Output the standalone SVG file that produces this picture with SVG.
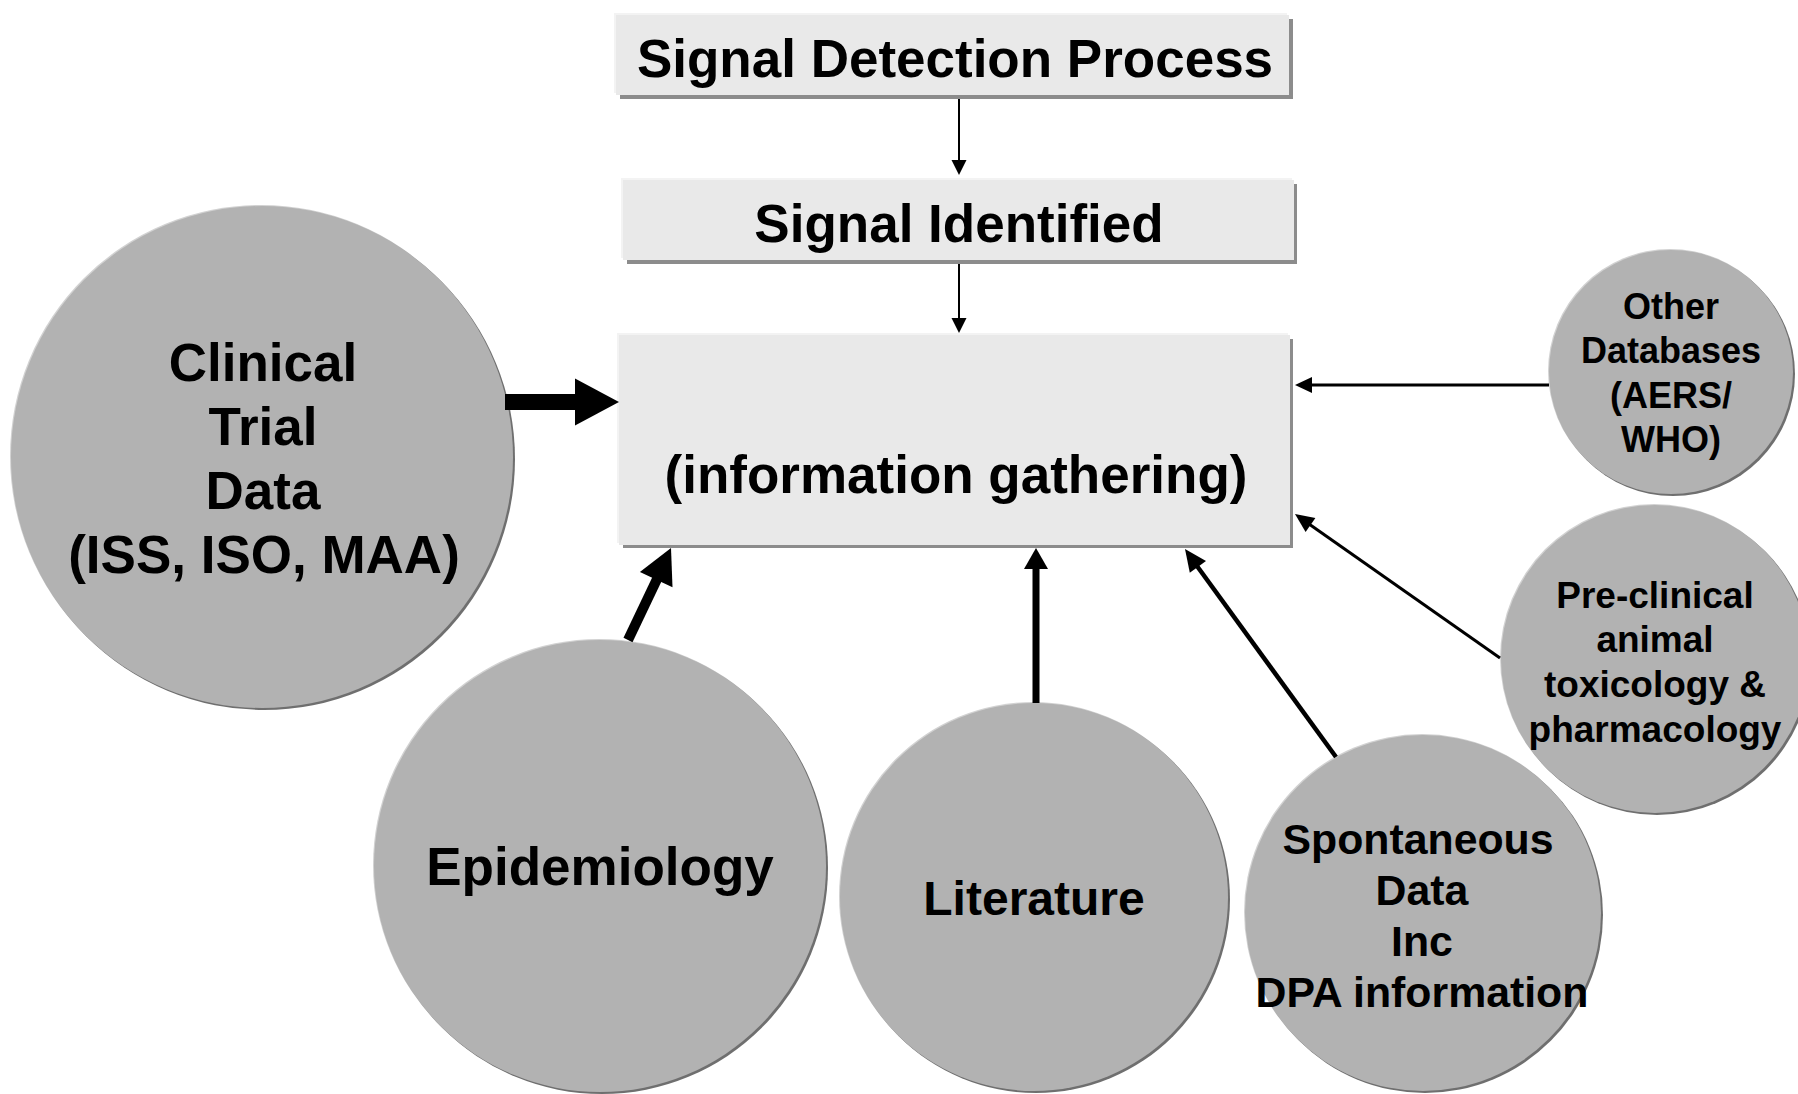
<svg xmlns="http://www.w3.org/2000/svg" width="1798" height="1094" viewBox="0 0 1798 1094">
<style>
.t{font-family:"Liberation Sans",Arial,sans-serif;font-weight:bold;fill:#000;text-anchor:middle}
.bx{fill:#e9e9e9}
.bxs{fill:#8c8c8c}
.bxh{fill:#f3f3f3}
.c{fill:#b2b2b2}
.cs{fill:#6f6f6f}
.ch{fill:#d2d2d2}
.ln{stroke:#000;fill:none}
.hd{fill:#000}
</style>
<rect width="1798" height="1094" fill="#fff"/>
<g id="node-detection">
<rect class="bxh" x="614" y="13" width="673" height="80"/>
<rect class="bxs" x="620" y="19" width="673" height="80"/>
<rect class="bx" x="616" y="15" width="673" height="80"/>
<text class="t" x="955" y="77" font-size="53">Signal Detection Process</text>
</g>
<g id="node-identified">
<rect class="bxh" x="621" y="178" width="671" height="80"/>
<rect class="bxs" x="627" y="184" width="670" height="80"/>
<rect class="bx" x="623" y="180" width="671" height="80"/>
<text class="t" x="959" y="242" font-size="53">Signal Identified</text>
</g>
<g id="node-gathering">
<rect class="bxh" x="617" y="333" width="671" height="210"/>
<rect class="bxs" x="623" y="339" width="670" height="209"/>
<rect class="bx" x="619" y="335" width="671" height="210"/>
<text class="t" x="956" y="493" font-size="53">(information gathering)</text>
</g>
<g id="node-clinical">
<circle class="ch" cx="261" cy="456" r="251"/>
<circle class="cs" cx="264" cy="459" r="251"/>
<circle class="c" cx="262" cy="457" r="251"/>
<text class="t" font-size="53"><tspan x="263" y="381">Clinical</tspan><tspan x="263" y="445">Trial</tspan><tspan x="263" y="509">Data</tspan><tspan x="264" y="573">(ISS, ISO, MAA)</tspan></text>
</g>
<g id="node-other">
<circle class="ch" cx="1670" cy="371" r="122"/>
<circle class="cs" cx="1673" cy="374" r="122"/>
<circle class="c" cx="1671" cy="372" r="122"/>
<text class="t" font-size="36"><tspan x="1671" y="319">Other</tspan><tspan x="1671" y="363">Databases</tspan><tspan x="1671" y="408">(AERS/</tspan><tspan x="1671" y="452">WHO)</tspan></text>
</g>
<g id="node-preclinical">
<circle class="ch" cx="1654" cy="658" r="154"/>
<circle class="cs" cx="1657" cy="661" r="154"/>
<circle class="c" cx="1655" cy="659" r="154"/>
<text class="t" font-size="37"><tspan x="1655" y="608">Pre-clinical</tspan><tspan x="1655" y="652">animal</tspan><tspan x="1655" y="697">toxicology &amp;</tspan><tspan x="1655" y="742">pharmacology</tspan></text>
</g>
<g id="node-epidemiology">
<circle class="ch" cx="599" cy="865" r="226"/>
<circle class="cs" cx="602" cy="868" r="226"/>
<circle class="c" cx="600" cy="866" r="226"/>
<text class="t" x="600" y="885" font-size="53">Epidemiology</text>
</g>
<g id="node-literature">
<circle class="ch" cx="1033" cy="896" r="194"/>
<circle class="cs" cx="1036" cy="899" r="194"/>
<circle class="c" cx="1034" cy="897" r="194"/>
<text class="t" x="1034" y="915" font-size="48">Literature</text>
</g>
<g id="node-spontaneous">
<circle class="ch" cx="1422" cy="912" r="178"/>
<circle class="cs" cx="1425" cy="915" r="178"/>
<circle class="c" cx="1423" cy="913" r="178"/>
<text class="t" font-size="42.8"><tspan x="1418" y="854">Spontaneous</tspan><tspan x="1422" y="905">Data</tspan><tspan x="1422" y="956">Inc</tspan><tspan x="1422" y="1007">DPA information</tspan></text>
</g>
<g id="connectors">
<line class="ln" x1="959" y1="99" x2="959" y2="162" stroke-width="2"/>
<polygon class="hd" points="951.5,160 959,175 966.5,160"/>
<line class="ln" x1="959" y1="264" x2="959" y2="320" stroke-width="2"/>
<polygon class="hd" points="951.5,318 959,333 966.5,318"/>
<line class="ln" x1="505" y1="402" x2="577" y2="402" stroke-width="16"/>
<polygon class="hd" points="575,378.5 619,402 575,425.5"/>
<line class="ln" x1="628" y1="640" x2="658" y2="577" stroke-width="10"/>
<polygon class="hd" points="639.9,572.1 671,548 672.5,587.3"/>
<line class="ln" x1="1036" y1="703" x2="1036" y2="566" stroke-width="7"/>
<polygon class="hd" points="1024,569 1036,548 1048,569"/>
<line class="ln" x1="1336" y1="757" x2="1197" y2="566" stroke-width="4.5"/>
<polygon class="hd" points="1206,560.9 1185,549 1189.8,572.7"/>
<line class="ln" x1="1500" y1="658" x2="1309" y2="524" stroke-width="3"/>
<polygon class="hd" points="1315.4,517.9 1295,514 1305.6,531.9"/>
<line class="ln" x1="1549" y1="385" x2="1310" y2="385" stroke-width="3"/>
<polygon class="hd" points="1312,377 1295,385 1312,393"/>
</g>
</svg>
